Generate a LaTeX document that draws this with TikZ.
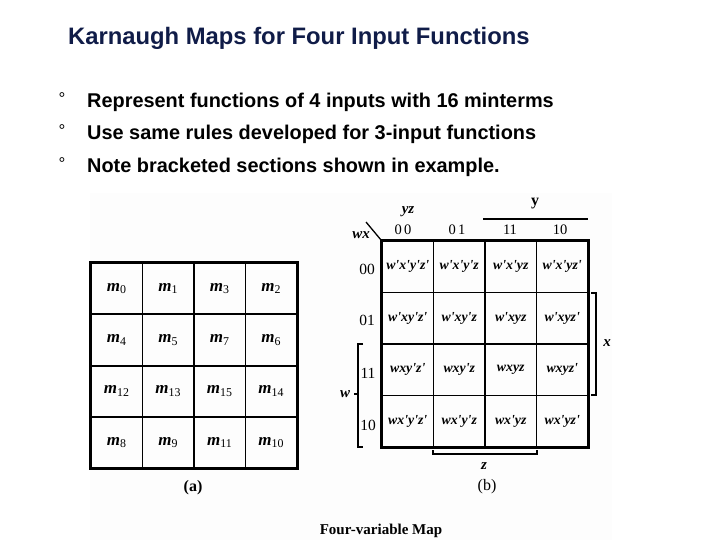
\documentclass[tikz,border=0pt]{standalone}
\usepackage{fontspec}
\usetikzlibrary{calc}
\setmainfont{Liberation Sans}
\newfontfamily\tms{Liberation Serif}
\definecolor{titlec}{RGB}{16,28,72}
\definecolor{bgc}{RGB}{253,253,253}
\newcommand{\mterm}[1]{{\bfseries\itshape m}\textsubscript{#1}}
\begin{document}
\begin{tikzpicture}[x=1pt,y=-1pt,
  titletext/.style={anchor=west,inner sep=0,text=titlec,font=\fontsize{23.8}{28}\selectfont\bfseries},
  bullettext/.style={anchor=west,inner sep=0,font=\fontsize{19.9}{24}\selectfont\bfseries},
  bulletmark/.style={inner sep=0,font=\fontsize{17}{19}\selectfont},
  acell/.style={draw,line width=1.8pt,minimum width=51.5pt,minimum height=51.3pt,inner sep=0,font=\tms\fontsize{17}{19}\selectfont},
  bcell/.style={draw,line width=1.8pt,minimum width=51.5pt,minimum height=51.5pt,inner sep=0,font=\tms\bfseries\itshape\fontsize{13.8}{15}\selectfont},
  hdr/.style={inner sep=0,font=\tms\fontsize{14.5}{16}\selectfont},
  rowl/.style={inner sep=0,font=\tms\fontsize{15.5}{17}\selectfont},
  varl/.style={inner sep=0,font=\tms\bfseries\itshape\fontsize{15}{17}\selectfont},
  captext/.style={inner sep=0,font=\tms\fontsize{16}{18}\selectfont},
  brk/.style={line width=1.3pt}]
\useasboundingbox (0,0) rectangle (720,540);
\fill[bgc] (90,193) rectangle (612,540);
\node[titletext] (title) at (68,38) {Karnaugh Maps for Four Input Functions};
\node[bulletmark] (d1) at (62,99) {°};
\node[bulletmark] (d2) at (62,131) {°};
\node[bulletmark] (d3) at (62,164) {°};
\node[bullettext] (b1) at (87,102) {Represent functions of 4 inputs with 16 minterms};
\node[bullettext] (b2) at (87,134) {Use same rules developed for 3-input functions};
\node[bullettext] (b3) at (87,167) {Note bracketed sections shown in example.};
% map (a)
\foreach \lab [count=\i from 0] in {0,1,3,2,4,5,7,6,12,13,15,14,8,9,11,10} {
  \pgfmathtruncatemacro\r{int(\i/4)}
  \pgfmathtruncatemacro\c{mod(\i,4)}
  \node[acell] (a\i) at ({91+51.5*(\c+0.5)},{263+51.3*(\r+0.5)}) {\mterm{\lab}};
}
\draw[line width=2.4pt] (a0.north west) rectangle (a15.south east);
\node[captext,font=\tms\bfseries\fontsize{16}{18}\selectfont] (capa) at (193,488) {(a)};
% map (b)
\foreach \lab [count=\i from 0] in {w'x'y'z',w'x'y'z,w'x'yz,w'x'yz',w'xy'z',w'xy'z,w'xyz,w'xyz',wxy'z',wxy'z,wxyz,wxyz',wx'y'z',wx'y'z,wx'yz,wx'yz'} {
  \pgfmathtruncatemacro\r{int(\i/4)}
  \pgfmathtruncatemacro\c{mod(\i,4)}
  \node[bcell] (b\i) at ({382+51.5*(\c+0.5)},{241+51.5*(\r+0.5)}) {\lab};
}
\draw[line width=2pt] (b0.north west) rectangle (b15.south east);
\node[hdr] (c0) at (403,230) {0\,0};
\node[hdr] (c1) at (457,230) {0\,1};
\node[hdr] (c2) at (510,230) {11};
\node[hdr] (c3) at (560,230) {10};
\node[rowl] (r0) at (367,269) {00};
\node[rowl] (r1) at (367,320) {01};
\node[rowl] (r2) at (368,373) {11};
\node[rowl] (r3) at (368,425) {10};
\node[varl] (yz) at (408,212) {yz};
\node[varl] (wx) at (361,235) {wx};
\coordinate (dg) at (366,222);
\draw[line width=1.3pt] (dg) -- (b0.north west);
% brackets
\coordinate (ya) at (483,219);
\coordinate (yb) at (588,219);
\draw[brk] (ya) -- (yb);
\node[inner sep=0,font=\tms\bfseries\fontsize{16}{18}\selectfont] (yl) at (535,204) {y};
\coordinate (xa) at (596,293);
\coordinate (xb) at (596,395);
\draw[brk] ($(xa)+(-5,0)$) -- (xa) -- (xb) -- ($(xb)+(-5,0)$);
\node[varl] (xl) at (607,343) {x};
\coordinate (wa) at (358,344);
\coordinate (wb) at (358,447);
\draw[brk] ($(wa)+(5,0)$) -- (wa) -- (wb) -- ($(wb)+(5,0)$);
\coordinate (wm) at (358,394);
\draw[brk] (wm) -- ++(-4,0);
\node[varl] (wl) at (345,394) {w};
\coordinate (za) at (433,454);
\coordinate (zb) at (537,454);
\draw[brk] ($(za)+(0,-4)$) -- (za) -- (zb) -- ($(zb)+(0,-4)$);
\node[varl] (zl) at (484,466) {z};
\node[captext] (capb) at (487,487) {(b)};
\node[inner sep=0,font=\tms\bfseries\fontsize{15}{17}\selectfont] (fv) at (381,531) {Four-variable Map};
\end{tikzpicture}
\end{document}
